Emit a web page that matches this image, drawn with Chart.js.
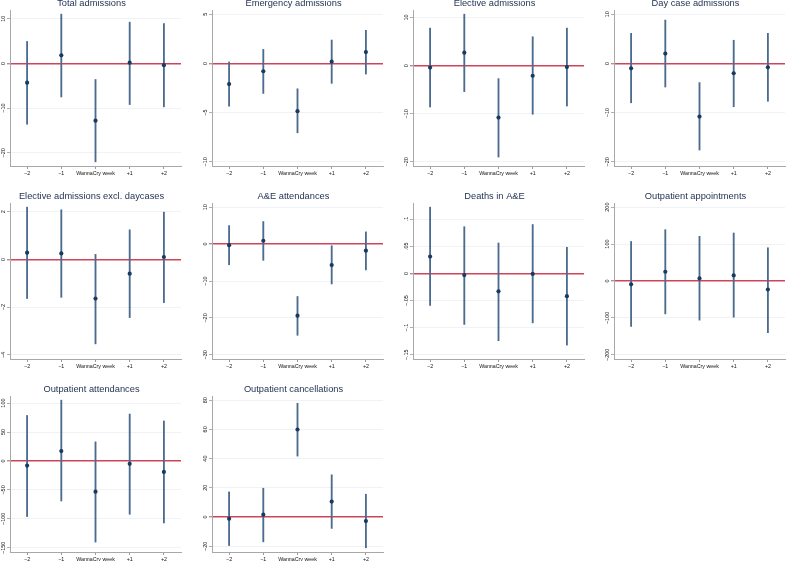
<!DOCTYPE html>
<html><head><meta charset="utf-8">
<script src="https://cdn.jsdelivr.net/npm/chart.js@4.4.0/dist/chart.umd.min.js"></script>
<style>
html,body{margin:0;padding:0;background:#fff;}
#wrap{position:relative;width:789px;height:561px;overflow:hidden;background:#fff;}
#wrap canvas{position:absolute;}
</style></head><body><div id="wrap"></div>
<script>
// ---------- data ----------
const weeks = ['\u22122', '\u22121', 'WannaCry week', '+1', '+2'];

const titles = ['Total admissions', 'Emergency admissions', 'Elective admissions', 'Day case admissions',
  'Elective admissions excl. daycases', 'A&E attendances', 'Deaths in A&E', 'Outpatient appointments',
  'Outpatient attendances', 'Outpatient cancellations'];

const totalEst = [-4.3, 1.8, -12.8, 0.15, -0.4];
const totalLo  = [-13.6, -7.5, -22.0, -9.2, -9.7];
const totalHi  = [4.9, 11.0, -3.6, 9.2, 8.9];
const totalTicks = [-20, -10, 0, 10];

const emergEst = [-2.1, -0.8, -4.85, 0.17, 1.15];
const emergLo  = [-4.35, -3.05, -7.05, -2.03, -1.08];
const emergHi  = [0.14, 1.42, -2.58, 2.37, 3.36];
const emergTicks = [-10, -5, 0, 5];

const electEst = [-0.4, 2.7, -10.8, -2.1, -0.3];
const electLo  = [-8.6, -5.4, -19.0, -10.1, -8.4];
const electHi  = [7.8, 10.7, -2.7, 6.0, 7.8];
const electTicks = [-20, -10, 0, 10];

const dayEst = [-1.0, 2.0, -10.8, -2.0, -0.8];
const dayLo  = [-8.0, -4.8, -17.6, -8.8, -7.7];
const dayHi  = [6.1, 8.8, -3.9, 4.7, 6.1];
const dayTicks = [-20, -10, 0, 10];

const exclEst = [0.28, 0.25, -1.64, -0.60, 0.10];
const exclLo  = [-1.64, -1.59, -3.54, -2.44, -1.81];
const exclHi  = [2.19, 2.08, 0.21, 1.24, 1.98];
const exclTicks = [-4, -2, 0, 2];

const aeEst = [-0.3, 0.9, -19.4, -5.7, -1.8];
const aeLo  = [-5.6, -4.4, -24.7, -10.8, -7.0];
const aeHi  = [5.0, 6.1, -14.2, -0.45, 3.3];
const aeTicks = [-30, -20, -10, 0, 10];

const deathEst = [0.031, -0.003, -0.033, -0.001, -0.042];
const deathLo  = [-0.059, -0.094, -0.124, -0.091, -0.132];
const deathHi  = [0.122, 0.086, 0.056, 0.090, 0.048];
const deathTicks = [-0.15, -0.1, -0.05, 0, 0.05, 0.1];

const apptEst = [-9, 25, 7, 15, -23];
const apptLo  = [-123, -89, -106, -98, -140];
const apptHi  = [107, 139, 121, 130, 90];
const apptTicks = [-200, -100, 0, 100, 200];

const attEst = [-8, 17, -53, -5, -19];
const attLo  = [-96, -69, -140, -92, -107];
const attHi  = [78.5, 105, 33, 81, 69];
const attTicks = [-150, -100, -50, 0, 50, 100];

const cancEst = [-1.1, 1.6, 59.9, 10.6, -2.8];
const cancLo  = [-19.5, -17.0, 41.7, -7.8, -21.1];
const cancHi  = [17.2, 19.7, 77.8, 28.9, 15.6];
const cancTicks = [-20, 0, 20, 40, 60, 80];

// ---------- layout & style ----------
const panels = [
  [totalEst, totalLo, totalHi, totalTicks],
  [emergEst, emergLo, emergHi, emergTicks],
  [electEst, electLo, electHi, electTicks],
  [dayEst, dayLo, dayHi, dayTicks],
  [exclEst, exclLo, exclHi, exclTicks],
  [aeEst, aeLo, aeHi, aeTicks],
  [deathEst, deathLo, deathHi, deathTicks],
  [apptEst, apptLo, apptHi, apptTicks],
  [attEst, attLo, attHi, attTicks],
  [cancEst, cancLo, cancHi, cancTicks]
];

const AXIS_X = [10, 212, 413, 614];
const PLOT_TOP = [10, 203, 396];
const Y_W = 12, PLOT_W = 175, PLOT_H = 156, TITLE_H = 12, X_H = 14;
const FONT = '"Liberation Sans", Arial, Helvetica, sans-serif';
const NAVY = '#1a3b60', BAR = '#4b6b8f', RED = '#d0445a', GRID = '#eceff3', TITLE_C = '#243553', AXIS_C = '#a8a8a8', TICK_C = '#9a9a9a';

function fmt(v) {
  let s = String(Math.round(v * 1000) / 1000);
  s = s.replace(/^0\./, '.').replace(/^-0\./, '-.');
  return s.replace('-', '\u2212');
}

const mctx = document.createElement('canvas').getContext('2d');
const wrap = document.getElementById('wrap');

panels.forEach((p, i) => {
  const [est, lo, hi, ticks] = p;
  const col = i % 4, row = Math.floor(i / 4);
  const cv = document.createElement('canvas');
  const W = Y_W + PLOT_W, H = TITLE_H + PLOT_H + X_H;
  cv.width = W; cv.height = H;
  cv.style.width = W + 'px'; cv.style.height = H + 'px';
  cv.style.left = (AXIS_X[col] - Y_W) + 'px';
  cv.style.top = (PLOT_TOP[row] - TITLE_H) + 'px';
  wrap.appendChild(cv);

  const dmin = Math.min(...lo, ...ticks), dmax = Math.max(...hi, ...ticks);
  const m = (dmax - dmin) * 0.0281;
  mctx.font = '5.5px ' + FONT;
  const widest = Math.max(...ticks.map(t => mctx.measureText(fmt(t)).width));

  new Chart(cv, {
    type: 'bar',
    data: {
      labels: weeks,
      datasets: [
        { type: 'line', data: est, showLine: false, fill: false, pointRadius: 2.1, pointStyle: 'circle',
          pointBackgroundColor: NAVY, pointBorderColor: NAVY, pointBorderWidth: 0, order: 0 },
        { type: 'bar', data: lo.map((v, k) => [v, hi[k]]), barThickness: 1.2,
          backgroundColor: BAR, borderWidth: 0, order: 1 }
      ]
    },
    options: {
      responsive: false, animation: false, events: [],
      layout: { padding: 0 },
      plugins: {
        legend: { display: false }, tooltip: { enabled: false },
        title: { display: true, text: titles[i], color: TITLE_C,
          font: { family: FONT, size: 9.3, weight: 'normal', lineHeight: '10px' },
          padding: { top: 0, bottom: 2 } }
      },
      scales: {
        x: {
          type: 'category', offset: true,
          grid: { offset: false, drawOnChartArea: false, tickLength: 3, tickColor: TICK_C },
          border: { color: AXIS_C, width: 1 },
          ticks: { autoSkip: false, maxRotation: 0, minRotation: 0, padding: 1.5, color: '#111',
            font: { family: FONT, size: 5.3 } },
          afterFit: s => { s.height = X_H; }
        },
        y: {
          type: 'linear', min: dmin - m, max: dmax + m,
          afterBuildTicks: s => { s.ticks = ticks.map(v => ({ value: v })); },
          ticks: { callback: v => fmt(v), minRotation: 90, maxRotation: 90, crossAlign: 'center',
            padding: 4 - widest / 2, color: '#111', font: { family: FONT, size: 5.5 } },
          grid: {
            color: c => (c.tick && Math.abs(c.tick.value) < 1e-9) ? RED : GRID,
            lineWidth: c => (c.tick && Math.abs(c.tick.value) < 1e-9) ? 1.4 : 0.8,
            tickLength: 3, tickColor: TICK_C
          },
          border: { color: AXIS_C, width: 1 },
          afterFit: s => { s.width = Y_W; }
        }
      }
    }
  });
});
</script>
</body></html>
